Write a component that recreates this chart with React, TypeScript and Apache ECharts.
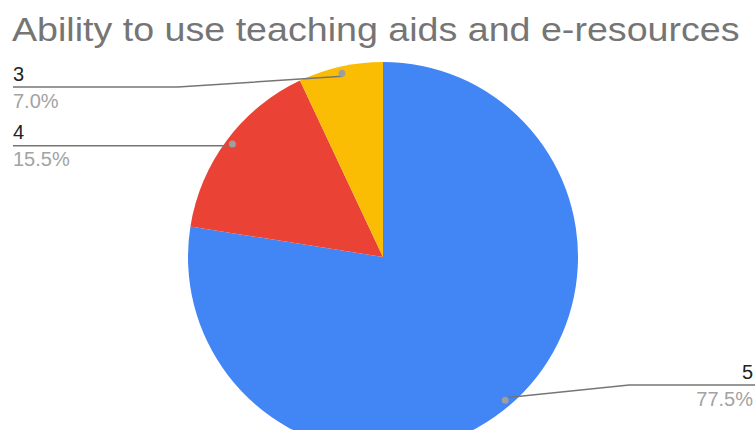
import React, { useEffect, useRef } from 'react';
import * as echarts from 'echarts';

const TITLE = 'Ability to use teaching aids and e-resources';
const categories = ['5', '4', '3'];
const values = [77.5, 15.5, 7.0];
const colors = ['#4285f4', '#ea4335', '#fbbc04'];

const W = 756;
const H = 430;
const CX = 383;
const CY = 257;
const R = 195;
const DOT_R = R * 0.95;
const LEFT_X = 13;
const RIGHT_X = 755;
const MIN_LINE_Y = 87;
const MAX_LINE_Y = 385;
const FONT = '"Liberation Sans", Arial, sans-serif';

function midDir(index: number): [number, number] {
  const sum = values.reduce((a, b) => a + b, 0);
  let cum = 0;
  for (let i = 0; i < index; i++) cum += values[i];
  const f = (cum + values[index] / 2) / sum;
  const th = f * Math.PI * 2;
  return [Math.sin(th), -Math.cos(th)];
}

export default function App() {
  const ref = useRef<HTMLDivElement>(null);
  useEffect(() => {
    const chart = echarts.init(ref.current!, null, { renderer: 'svg' });
    const data = categories.map((c, i) => ({
      name: c,
      value: values[i],
      itemStyle: { color: colors[i] },
    }));
    const ghost = categories.map((c, i) => ({
      name: c,
      value: values[i],
      itemStyle: { color: 'transparent' },
    }));
    chart.setOption({
      animation: false,
      graphic: [
        {
          type: 'text',
          x: 12,
          y: 29,
          scaleX: 1.14,
          style: {
            text: TITLE,
            font: '33px "Liberation Sans", Arial, sans-serif',
            fill: '#757575',
            verticalAlign: 'middle',
          },
        },
      ],
      series: [
        {
          type: 'pie',
          center: [CX, CY],
          radius: R,
          startAngle: 90,
          clockwise: true,
          silent: true,
          data,
          label: { show: false },
          labelLine: { show: false },
          z: 2,
        },
        {
          type: 'pie',
          center: [CX, CY],
          radius: R,
          startAngle: 90,
          clockwise: true,
          silent: true,
          data: ghost,
          z: 3,
          label: {
            show: true,
            formatter: (p: any) => `{n|${p.name}}\n{p|${Number(p.percent).toFixed(1)}%}`,
            rich: {
              n: { fontFamily: FONT, fontSize: 20, color: '#222222', lineHeight: 27 },
              p: { fontFamily: FONT, fontSize: 20, color: '#a3a3a3', lineHeight: 27 },
            },
          },
          labelLine: {
            show: true,
            length: 10,
            length2: 10,
            smooth: false,
            lineStyle: { color: '#757575', width: 1.5 },
          },
          labelLayout: (p: any) => {
            const [dx, dy] = midDir(p.dataIndex);
            const dot = [CX + dx * DOT_R, CY + dy * DOT_R];
            const left = dx < 0;
            const lineY = Math.min(MAX_LINE_Y, Math.max(MIN_LINE_Y, dot[1]));
            const endX = left ? LEFT_X : RIGHT_X;
            const knee = [(dot[0] + endX) / 2, lineY];
            return {
              x: left ? LEFT_X : RIGHT_X - 2,
              y: lineY,
              align: left ? 'left' : 'right',
              verticalAlign: 'middle',
              labelLinePoints: [dot, knee, [endX, lineY]],
            };
          },
        },
        {
          type: 'pie',
          center: [CX, CY],
          radius: [R * 0.9, R],
          startAngle: 90,
          clockwise: true,
          silent: true,
          data: ghost,
          z: 4,
          label: {
            show: true,
            position: 'inside',
            formatter: '{d| }',
            rich: {
              d: { width: 7, height: 7, borderRadius: 3.5, backgroundColor: '#9e9e9e', fontSize: 1 },
            },
          },
          labelLine: { show: false },
        },
      ],
    });
    return () => chart.dispose();
  }, []);
  return <div ref={ref} style={{ position: 'absolute', left: 0, top: 0, width: W, height: H }} />;
}
